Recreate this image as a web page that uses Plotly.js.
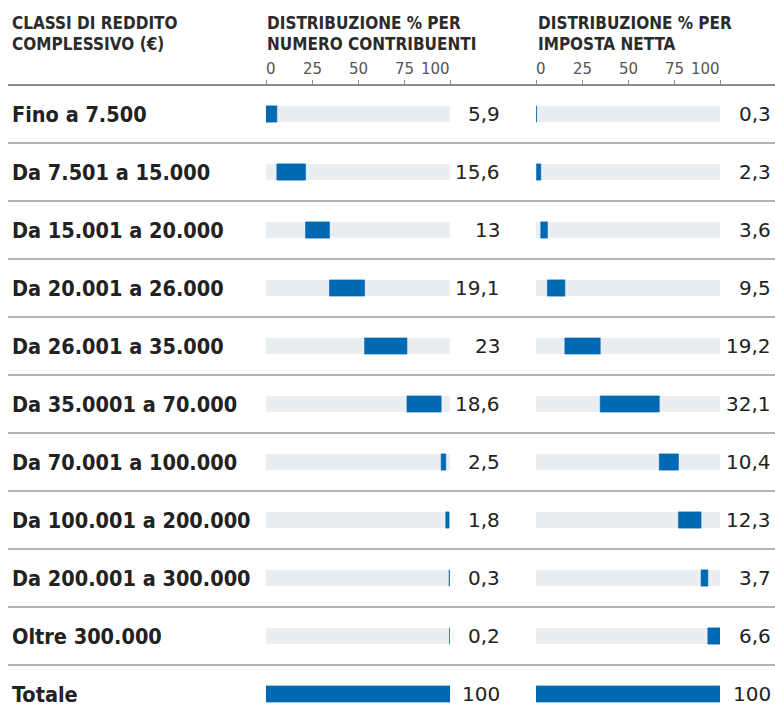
<!DOCTYPE html>
<html>
<head>
<meta charset="utf-8">
<script src="https://cdn.plot.ly/plotly-3.0.1.min.js"></script>
<style>html,body{margin:0;padding:0;background:#fff;}#chart{width:775px;height:718px;}</style>
</head>
<body>
<div id="chart"></div>
<script>
const categories = ["Fino a 7.500","Da 7.501 a 15.000","Da 15.001 a 20.000","Da 20.001 a 26.000","Da 26.001 a 35.000","Da 35.0001 a 70.000","Da 70.001 a 100.000","Da 100.001 a 200.000","Da 200.001 a 300.000","Oltre 300.000","Totale"];
const contribuenti = [5.9, 15.6, 13, 19.1, 23, 18.6, 2.5, 1.8, 0.3, 0.2, 100];
const impostaNetta = [0.3, 2.3, 3.6, 9.5, 19.2, 32.1, 10.4, 12.3, 3.7, 6.6, 100];
const tickVals = [0, 25, 50, 75, 100];
const tickLabels = ["0", "25", "50", "75", "100"];
const headers = [["CLASSI DI REDDITO", "COMPLESSIVO (€)"], ["DISTRIBUZIONE % PER", "NUMERO CONTRIBUENTI"], ["DISTRIBUZIONE % PER", "IMPOSTA NETTA"]];

const BLUE = "#0069b4", GREY = "#ebeef1", TEXT = "#222";
const W = 775, H = 718;
const COND = "DejaVu Sans Condensed, DejaVu Sans, sans-serif";
const SANS = "DejaVu Sans, sans-serif";

function bases(vals) {
  const out = []; let acc = 0;
  vals.forEach((v, i) => {
    if (i === vals.length - 1) { out.push(0); } else { out.push(acc); acc += v; }
  });
  return out;
}
function fmt(v) { return String(v).replace(".", ","); }

const n = categories.length;
const full = categories.map(() => 100);
const zeros = categories.map(() => 0);
const bw = 0.28;

const traces = [
  {type: "bar", orientation: "h", y: categories, x: full, base: zeros, xaxis: "x", yaxis: "y", marker: {color: GREY}, width: bw, hoverinfo: "skip"},
  {type: "bar", orientation: "h", y: categories, x: contribuenti, base: bases(contribuenti), xaxis: "x", yaxis: "y", marker: {color: BLUE, line: {color: BLUE, width: 0.6}}, width: bw},
  {type: "bar", orientation: "h", y: categories, x: full, base: zeros, xaxis: "x2", yaxis: "y", marker: {color: GREY}, width: bw, hoverinfo: "skip"},
  {type: "bar", orientation: "h", y: categories, x: impostaNetta, base: bases(impostaNetta), xaxis: "x2", yaxis: "y", marker: {color: BLUE, line: {color: BLUE, width: 0.6}}, width: bw}
];

const headerLine = 85;
const rowH = 58;
const firstCenter = headerLine + rowH / 2;
const yTop = -firstCenter / rowH;
const yBot = (H - firstCenter) / rowH;
const axisPos = 1 - headerLine / H;

const annotations = [];
categories.forEach((c, i) => {
  annotations.push({xref: "paper", yref: "y", x: 10 / W, y: i, xanchor: "left", yanchor: "middle", text: "<b>" + c + "</b>", showarrow: false, font: {family: COND, size: 21.5, color: TEXT}});
  annotations.push({xref: "paper", yref: "y", x: 502 / W, y: i, xanchor: "right", yanchor: "middle", text: fmt(contribuenti[i]), showarrow: false, font: {family: SANS, size: 20, color: TEXT}});
  annotations.push({xref: "paper", yref: "y", x: 773 / W, y: i, xanchor: "right", yanchor: "middle", text: fmt(impostaNetta[i]), showarrow: false, font: {family: SANS, size: 20, color: TEXT}});
});
const headerX = [10, 265, 536];
const headerY = [23, 44];
headers.forEach((lines, i) => {
  lines.forEach((ln, j) => {
    annotations.push({xref: "paper", yref: "paper", x: headerX[i] / W, y: 1 - headerY[j] / H, xanchor: "left", yanchor: "middle", text: "<b>" + ln + "</b>", showarrow: false, font: {family: COND, size: 17, color: "#2b2b2b"}});
  });
});
const labelAnchor = ["left", "center", "center", "center", "right"];
["x", "x2"].forEach(ax => {
  tickVals.forEach((t, i) => {
    annotations.push({xref: ax, yref: "paper", x: t, y: 1 - 69 / H, xanchor: labelAnchor[i], yanchor: "middle", xshift: i === 0 ? -2 : (i === 4 ? 2 : 0), text: tickLabels[i], showarrow: false, font: {family: SANS, size: 15, color: "#555"}});
  });
});

const shapes = [];
for (let k = 0; k < n; k++) {
  shapes.push({type: "line", xref: "paper", yref: "y", x0: 8 / W, x1: 1, y0: k - 0.5, y1: k - 0.5, line: {color: k === 0 ? "#8a8a8a" : "#9a9a9a", width: k === 0 ? 2 : 1.5}});
}

const xCommon = {range: [0, 100], showgrid: false, zeroline: false, showline: false, side: "top", anchor: "free", position: axisPos, tickmode: "array", tickvals: tickVals, ticks: "outside", ticklen: 5, tickwidth: 1, tickcolor: "#888", showticklabels: false, fixedrange: true};

const layout = {
  width: W, height: H,
  margin: {l: 0, r: 0, t: 0, b: 0},
  paper_bgcolor: "#fff", plot_bgcolor: "rgba(0,0,0,0)",
  showlegend: false,
  barmode: "overlay",
  xaxis: Object.assign({}, xCommon, {domain: [266 / W, 450 / W]}),
  xaxis2: Object.assign({}, xCommon, {domain: [536 / W, 720 / W]}),
  yaxis: {type: "category", categoryorder: "array", categoryarray: categories, range: [yBot, yTop], domain: [0, 1], showticklabels: false, showgrid: false, zeroline: false, showline: false, ticks: "", fixedrange: true},
  annotations: annotations,
  shapes: shapes
};

Plotly.newPlot("chart", traces, layout, {displayModeBar: false, staticPlot: true});
</script>
</body>
</html>
